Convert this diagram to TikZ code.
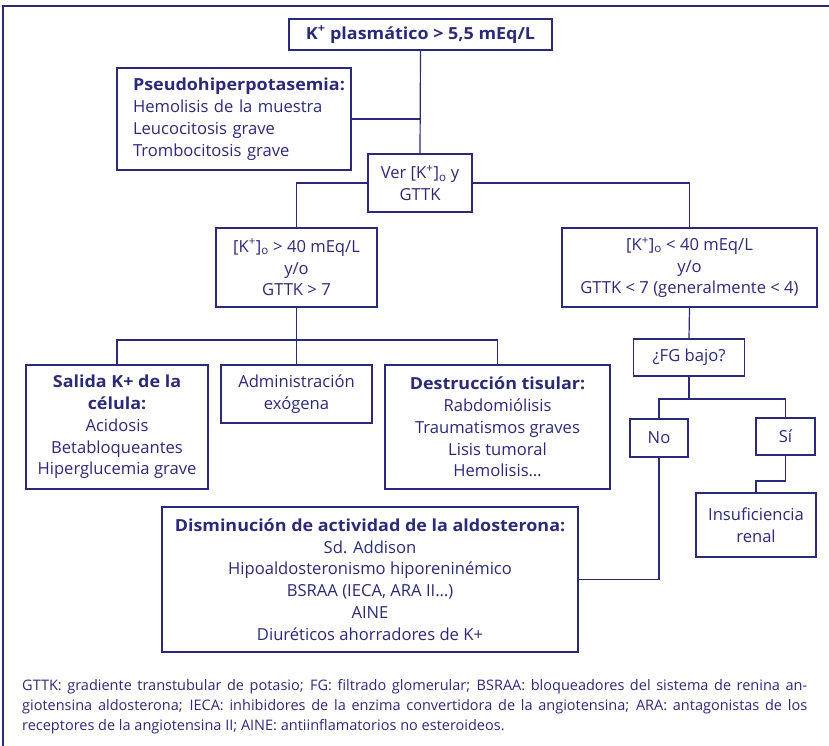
\documentclass[tikz,border=0pt]{standalone}
\usepackage{fontspec}
\setmainfont[BoldFeatures={FakeStretch=1.08}]{Open Sans}
\definecolor{navy}{RGB}{43,42,120}
\tikzset{
  box/.style={draw=navy, line width=1.3pt, text=navy, align=center, inner sep=0pt,
    font=\fontsize{16.6}{21.8}\selectfont},
  conn/.style={draw=navy, line width=1.2pt},
}
\newcommand{\Kp}{[K\textsuperscript{+}]\textsubscript{o}}
\begin{document}
\begin{tikzpicture}[x=1pt,y=-1pt]
\useasboundingbox (0,0) rectangle (829,746);
\draw[navy, line width=2.6pt] (3,746) -- (3,6) -- (829,6);

\node[box, minimum width=263, minimum height=31, font=\fontsize{16.6}{20}\selectfont\bfseries] (top) at (420.5,34.5) {K\textsuperscript{+} plasmático > 5,5 mEq/L};
\node[box, align=left, text width=202, inner xsep=16, minimum height=102] (pseudo) at (234,119)
  {\textbf{Pseudohiperpotasemia:}\\Hemolisis de la muestra\\Leucocitosis grave\\Trombocitosis grave};
\node[box, minimum width=104, minimum height=58, fill=white] (ver) at (420,183) {Ver \Kp{} y\\GTTK};
\node[box, minimum width=161, minimum height=79] (left) at (296.5,267.5) {\Kp{} > 40 mEq/L\\y/o\\GTTK > 7};
\node[box, minimum width=255, minimum height=79] (right) at (689.5,267.5) {\Kp{} < 40 mEq/L\\y/o\\GTTK < 7 (generalmente < 4)};
\node[box, minimum width=182, minimum height=124] (salida) at (117,427)
  {\textbf{Salida K+ de la}\\\textbf{célula:}\\Acidosis\\Betabloqueantes\\Hiperglucemia grave};
\node[box, minimum width=151, minimum height=58] (admin) at (296.5,394) {Administración\\exógena};
\node[box, minimum width=225, minimum height=124] (destr) at (497.5,427)
  {\textbf{Destrucción tisular:}\\Rabdomiólisis\\Traumatismos graves\\Lisis tumoral\\Hemolisis…};
\node[box, minimum width=111, minimum height=37] (fg) at (689,357.5) {¿FG bajo?};
\node[box, minimum width=58, minimum height=38] (no) at (659,438) {No};
\node[box, minimum width=59, minimum height=37] (si) at (785.5,436.5) {Sí};
\node[box, minimum width=120, minimum height=64] (insuf) at (756,525) {Insuficiencia\\renal};
\node[box, minimum width=416, minimum height=145] (dismin) at (370,579.5)
  {\textbf{Disminución de actividad de la aldosterona:}\\Sd. Addison\\Hipoaldosteronismo hiporeninémico\\BSRAA (IECA, ARA II…)\\AINE\\Diuréticos ahorradores de K+};

\coordinate (b1) at (296.5,340);
\coordinate (b2) at (689,399);
\coordinate (b3) at (785.5,481);

\draw[conn] (top.south) -- (ver.north);
\draw[conn] (pseudo.east) -- (pseudo.east -| top.south);
\draw[conn] (ver.west) -| (left.north);
\draw[conn] (ver.east) -| (right.north);
\draw[conn] (left.south) -- (admin.north);
\draw[conn] (salida.north) |- (b1) -| (destr.north);
\draw[conn] (right.south) -- (fg.north);
\draw[conn] (fg.south) -- (b2);
\draw[conn] (no.north) |- (b2) -| (si.north);
\draw[conn] (si.south) -- (b3) -| (insuf.north);
\draw[conn] (no.south) |- (dismin.east);

\node[anchor=north west, text=navy, text width=785, align=justify, inner sep=0pt,
  font=\fontsize{14.5}{20}\selectfont] (foot) at (22,679)
  {GTTK: gradiente transtubular de potasio; FG: filtrado glomerular; BSRAA: bloqueadores del sistema de renina an-\linebreak giotensina aldosterona; IECA: inhibidores de la enzima convertidora de la angiotensina; ARA: antagonistas de los\linebreak receptores de la angiotensina II; AINE: antiinflamatorios no esteroideos.};
\end{tikzpicture}
\end{document}
